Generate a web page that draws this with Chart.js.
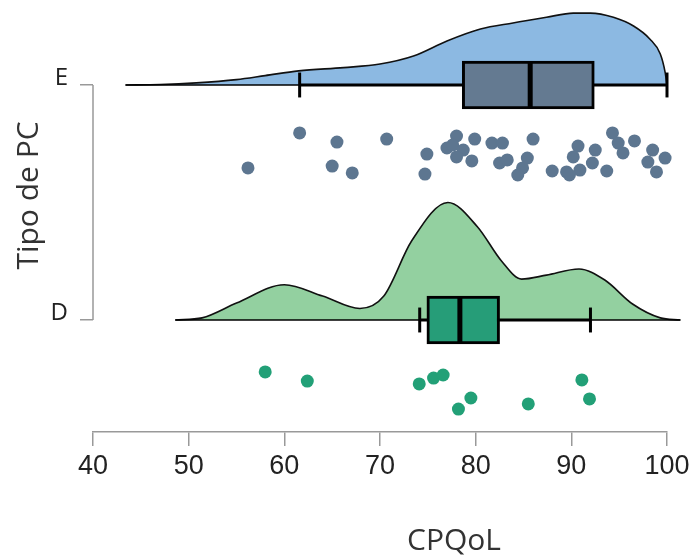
<!DOCTYPE html>
<html><head><meta charset="utf-8">
<script src="https://cdn.jsdelivr.net/npm/chart.js@4"></script>
<style>html,body{margin:0;padding:0;background:#fff}canvas{display:block}</style>
</head><body>
<canvas id="c" width="697" height="556"></canvas>
<script>
// ---- data ----
const categories = ['D', 'E'];
const categoryPos = [1, 2];
const xTickValues = [40, 50, 60, 70, 80, 90, 100];
const xTitle = 'CPQoL';
const yTitle = 'Tipo de PC';

// half-violin density (height above the group baseline, in y-axis units)
const eDensityX = [43.4, 47, 50.8, 55, 58, 61.5, 66.2, 70, 73.5, 77, 80.5, 83.9, 87.4, 90.2, 92, 94.4, 96.5, 98.2, 99.3, 99.8, 100];
const eDensity  = [0, 0.002, 0.009, 0.023, 0.04, 0.06, 0.074, 0.089, 0.123, 0.187, 0.238, 0.264, 0.288, 0.306, 0.306, 0.288, 0.251, 0.196, 0.132, 0.055, 0];
const dDensityX = [48.6, 51.4, 55, 60, 64, 67.9, 70.4, 73.3, 77.1, 80.2, 82.7, 84.8, 87.4, 90.8, 93.5, 96.4, 99.3, 101.4];
const dDensity  = [0, 0.009, 0.072, 0.15, 0.102, 0.049, 0.102, 0.336, 0.5, 0.396, 0.251, 0.174, 0.191, 0.217, 0.17, 0.068, 0.009, 0];

// box plots: [whisker low, Q1, median, Q3, whisker high]
const eBox = [61.6, 78.6, 85.7, 92.4, 100];
const dBox = [74.15, 74.9, 78.35, 82.5, 92.0];

// raw observations (value, vertical jitter offset below the group)
const ePointsX = [56.2, 61.6, 65.5, 65.0, 67.1, 70.7, 74.9, 74.7, 77.0, 78.0, 77.6, 78.7, 78.0, 79.6, 79.9, 81.7, 82.8, 82.5, 83.3, 86.0, 85.4, 84.9, 84.4, 88.0, 89.5, 90.7, 90.2, 90.9, 89.8, 92.5, 92.2, 93.7, 94.3, 94.9, 95.4, 96.6, 98.5, 98.0, 98.9, 99.8];
const ePointsJitter = [-0.353, -0.204, -0.243, -0.345, -0.374, -0.230, -0.294, -0.379, -0.268, -0.217, -0.255, -0.277, -0.306, -0.323, -0.230, -0.247, -0.247, -0.332, -0.319, -0.230, -0.311, -0.353, -0.383, -0.366, -0.370, -0.260, -0.306, -0.362, -0.383, -0.277, -0.332, -0.366, -0.204, -0.247, -0.289, -0.238, -0.277, -0.328, -0.370, -0.311];
const dPointsX = [58.0, 62.4, 74.1, 75.6, 76.6, 79.5, 78.2, 85.5, 91.1, 91.9];
const dPointsJitter = [-0.221, -0.260, -0.272, -0.247, -0.234, -0.332, -0.379, -0.357, -0.255, -0.336];

// ---- styling ----
const colors = {
  E: { density: '#8cb9e2', box: '#647a91', point: '#5d7690' },
  D: { density: '#93d0a0', box: '#269d78', point: '#22a077' }
};
const BOX_HALF = 0.102, CAP_HALF = 0.053;

function groupDatasets(name, base, dx, dh, box, px, pj) {
  const c = colors[name];
  const line = (pts, w) => ({ type: 'line', data: pts, borderColor: '#000', borderWidth: w, pointRadius: 0, fill: false, clip: false, tension: 0 });
  return [
    { type: 'line', data: dx.map((x, i) => ({ x, y: base + dh[i] })), fill: { value: base },
      backgroundColor: c.density, borderColor: '#111', borderWidth: 1.6, pointRadius: 0,
      cubicInterpolationMode: 'monotone', clip: false },
    line([{ x: dx[0], y: base }, { x: dx[dx.length - 1], y: base }], 1.6),
    line([{ x: box[0], y: base }, { x: box[4], y: base }], 3),
    { type: 'bar', indexAxis: 'y', data: [{ x: [box[1], box[3]], y: base }], backgroundColor: c.box,
      borderColor: '#000', borderWidth: 3, borderSkipped: false, barThickness: 48, grouped: false, clip: false },
    line([{ x: box[2], y: base - BOX_HALF }, { x: box[2], y: base + BOX_HALF }], 5),
    line([{ x: box[0], y: base - CAP_HALF }, { x: box[0], y: base + CAP_HALF }], 3),
    line([{ x: box[4], y: base - CAP_HALF }, { x: box[4], y: base + CAP_HALF }], 3),
    { type: 'scatter', data: px.map((x, i) => ({ x, y: base + pj[i] })), backgroundColor: c.point,
      borderWidth: 0, pointRadius: 6.5, pointHoverRadius: 6.5, clip: false }
  ];
}

const layers = [
  ...groupDatasets('E', 2, eDensityX, eDensity, eBox, ePointsX, ePointsJitter),
  ...groupDatasets('D', 1, dDensityX, dDensity, dBox, dPointsX, dPointsJitter)
];
layers.forEach((d, i) => { d.order = -i; });

const decor = {
  id: 'decor',
  afterDraw(chart) {
    const ctx = chart.ctx, y = chart.scales.y, area = chart.chartArea;
    ctx.save();
    ctx.strokeStyle = '#999';
    ctx.lineWidth = 1.5;
    ctx.beginPath();
    ctx.moveTo(area.left, y.getPixelForValue(2));
    ctx.lineTo(area.left, y.getPixelForValue(1));
    ctx.stroke();
    ctx.fillStyle = '#333';
    ctx.font = '30px "Open Sans", sans-serif';
    ctx.textAlign = 'center';
    ctx.textBaseline = 'alphabetic';
    ctx.fillText(xTitle, 454, 550);
    ctx.translate(38, (y.getPixelForValue(2) + y.getPixelForValue(1)) / 2 - 7);
    ctx.rotate(-Math.PI / 2);
    ctx.fillText(yTitle, 0, 0);
    ctx.restore();
  }
};

new Chart(document.getElementById('c'), {
  type: 'scatter',
  data: { datasets: layers },
  options: {
    responsive: false,
    animation: false,
    devicePixelRatio: 1,
    layout: { padding: { left: 0, right: 30, top: 0, bottom: 0 } },
    plugins: { legend: { display: false }, tooltip: { enabled: false } },
    scales: {
      x: {
        type: 'linear', min: 40, max: 100, offset: false,
        afterBuildTicks: s => { s.ticks = xTickValues.map(v => ({ value: v })); },
        afterFit: s => { s.height = 124; },
        ticks: { font: { family: '"Liberation Sans Narrow", "Arial Narrow", sans-serif', size: 27 }, color: '#222', padding: 4, maxRotation: 0, autoSkip: false },
        grid: { drawOnChartArea: false, drawTicks: true, tickLength: 14, color: '#999', lineWidth: 1.5, offset: false },
        border: { display: true, color: '#999', width: 1.5 }
      },
      y: {
        type: 'linear', min: 0.5234, max: 2.334, offset: false,
        afterBuildTicks: s => { s.ticks = categoryPos.map(v => ({ value: v })); },
        afterFit: s => { s.width = 93; s.paddingTop = 0; s.paddingBottom = 0; },
        ticks: { callback: v => categories[categoryPos.indexOf(v)], font: { family: '"Open Sans", sans-serif', size: 24 }, color: '#222', padding: 12, labelOffset: -7 },
        grid: { drawOnChartArea: false, drawTicks: true, tickLength: 13, color: '#999', lineWidth: 1.5, offset: false },
        border: { display: false }
      }
    }
  },
  plugins: [decor]
});
</script>
</body></html>
